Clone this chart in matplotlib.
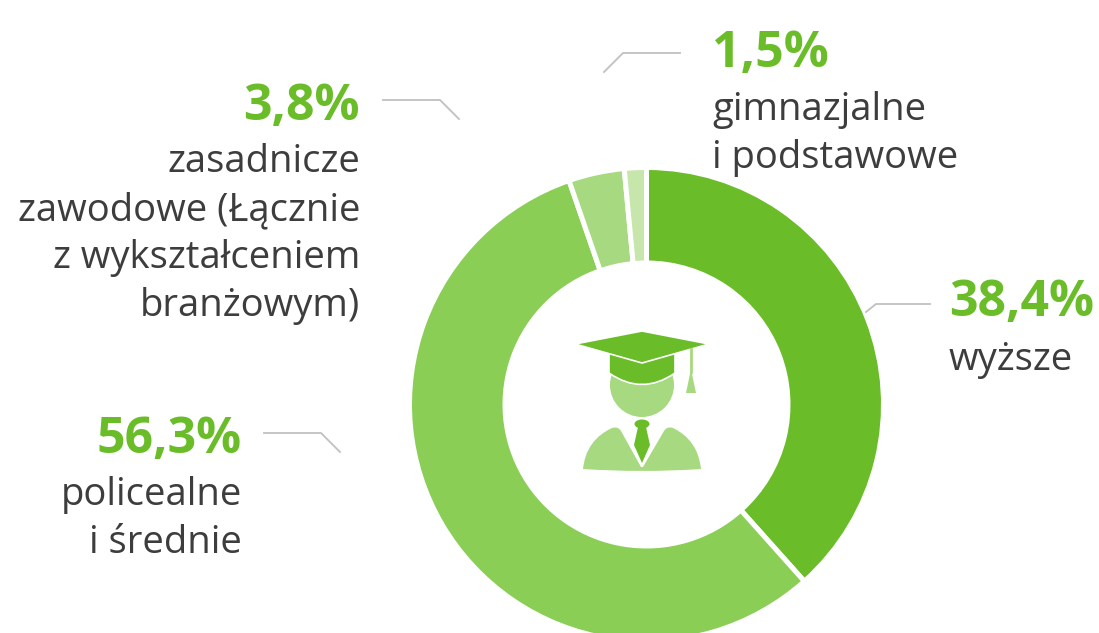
#!/usr/bin/env python
import matplotlib
matplotlib.use('Agg')
import matplotlib.pyplot as plt
from matplotlib.path import Path
from matplotlib.patches import PathPatch, Polygon, Ellipse, Circle

# chart data
shares = [38.4, 56.3, 3.8, 1.5]
colors = ['#6abd28', '#8ace56', '#a7da80', '#c6e6ab']
pct_labels = ['38,4%', '56,3%', '3,8%', '1,5%']
desc_labels = [['wyższe'],
               ['policealne', 'i średnie'],
               ['zasadnicze', 'zawodowe (Łącznie', 'z wykształceniem', 'branżowym)'],
               ['gimnazjalne', 'i podstawowe']]

GREEN = '#6abd28'
LIGHT = '#a7da80'
TEXT = '#3d3d3d'
GREY = '#c0c0c0'

plt.rcParams['font.family'] = ['Open Sans', 'DejaVu Sans']

fig = plt.figure(figsize=(10.99, 6.33), dpi=100)
ax = fig.add_axes([0, 0, 1, 1])

# y axis is flipped below so everything is in image pixels,
# that also flips the pie direction: counterclock here is clockwise on screen
ax.pie(shares, colors=colors, startangle=270, counterclock=True,
       center=(646.5, 404.5), radius=237,
       wedgeprops=dict(width=95.5, edgecolor='white', linewidth=3.6))
ax.set_xlim(0, 1099)
ax.set_ylim(633, 0)
ax.set_aspect('auto')
ax.axis('off')

# label blocks: x anchor, alignment, y of percent, y of first text line
blocks = [(949, 'left', 303, 360),
          (242, 'right', 440, 495),
          (360, 'right', 107, 162),
          (712, 'left', 54, 110)]
for i, (x, ha, y_pct, y_txt) in enumerate(blocks):
    ax.text(x, y_pct, pct_labels[i], ha=ha, va='center', fontsize=36,
            fontweight='bold', color=GREEN)
    for j, line in enumerate(desc_labels[i]):
        ax.text(x, y_txt + j * 48, line, ha=ha, va='center', fontsize=27.5,
                color=TEXT)

# leader lines
leaders = [[(866, 312), (876, 304), (930, 304)],
           [(264, 433), (321, 433), (340, 452)],
           [(383, 100), (440, 100), (459, 119)],
           [(604, 72), (623, 53), (680, 53)]]
for pts in leaders:
    ax.plot([p[0] for p in pts], [p[1] for p in pts], color=GREY, lw=1.3)

# graduate icon
ax.add_patch(Circle((642, 385), 32, fc=LIGHT, ec='none'))

band = Path([(609, 345), (675, 345), (675, 373), (642, 396), (609, 373), (609, 345)],
            [Path.MOVETO, Path.LINETO, Path.LINETO, Path.CURVE3, Path.CURVE3, Path.CLOSEPOLY])
ax.add_patch(PathPatch(band, fc=GREEN, ec='white', lw=1.2))
ax.add_patch(Polygon([(575, 344), (642, 331), (709, 344), (642, 363)], fc=GREEN, ec='white', lw=1.2))

# tassel
ax.plot([691, 691], [349, 372], color=LIGHT, lw=2)
ax.add_patch(Polygon([(691, 369), (686, 393), (696, 393)], fc=LIGHT, ec='none'))

# shoulders
body = Path([(583, 469), (586, 440), (612, 428), (618, 426), (621, 431), (641, 467), (643, 467),
             (664, 431), (667, 426), (673, 428), (698, 440), (701, 469), (642, 473), (583, 469)],
            [Path.MOVETO, Path.CURVE3, Path.CURVE3, Path.CURVE3, Path.CURVE3, Path.LINETO, Path.LINETO,
             Path.LINETO, Path.CURVE3, Path.CURVE3, Path.CURVE3, Path.CURVE3, Path.CURVE3, Path.CURVE3])
ax.add_patch(PathPatch(body, fc=LIGHT, ec='none'))

# tie
ax.add_patch(Ellipse((642, 424), 15, 9, fc=GREEN, ec='none'))
ax.add_patch(Polygon([(638, 427), (634, 445), (642, 463), (650, 445), (646, 427)], fc=GREEN, ec='none'))

fig.savefig('out.png', dpi=100)
